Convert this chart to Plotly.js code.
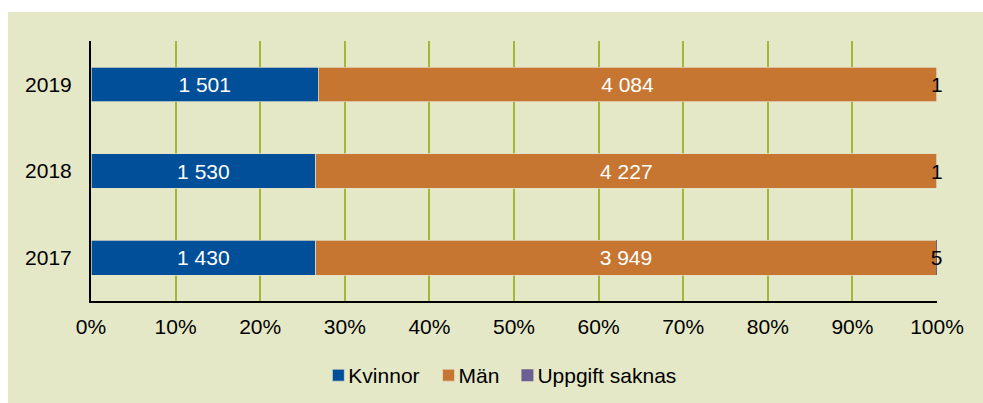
<!DOCTYPE html>
<html>
<head>
<meta charset="utf-8">
<script src="https://cdn.plot.ly/plotly-3.0.1.min.js"></script>
<style>
  html, body { margin: 0; padding: 0; background: #ffffff; width: 983px; height: 403px; overflow: hidden; }
  #chart { position: absolute; left: 8px; top: 12px; width: 975px; height: 391px; }
</style>
</head>
<body>
<div id="chart"></div>
<script>
const years = ['2017', '2018', '2019'];
const kvinnor = [1430, 1530, 1501];
const man = [3949, 4227, 4084];
const saknas = [5, 1, 1];
const seriesNames = ['Kvinnor', 'Män', 'Uppgift saknas'];
const xTickVals = [0, 10, 20, 30, 40, 50, 60, 70, 80, 90, 100];

function fmt(v) {
  return String(v).replace(/\B(?=(\d{3})+(?!\d))/g, ' ');
}

const FONT = 'Liberation Sans, Arial, sans-serif';
const FS = 21;
const lineStyle = { color: 'rgba(225,225,200,0.9)', width: 0.8 };

const traces = [
  {
    type: 'bar', orientation: 'h', name: seriesNames[0],
    y: years, x: kvinnor, text: kvinnor.map(fmt),
    textposition: 'inside', insidetextanchor: 'middle',
    insidetextfont: { color: '#ffffff', size: FS, family: FONT },
    marker: { color: '#004f98', line: lineStyle },
    hoverinfo: 'skip'
  },
  {
    type: 'bar', orientation: 'h', name: seriesNames[1],
    y: years, x: man, text: man.map(fmt),
    textposition: 'inside', insidetextanchor: 'middle',
    insidetextfont: { color: '#ffffff', size: FS, family: FONT },
    marker: { color: '#c77632', line: lineStyle },
    hoverinfo: 'skip'
  },
  {
    type: 'bar', orientation: 'h', name: seriesNames[2],
    y: years, x: saknas, text: saknas.map(fmt),
    textposition: 'inside', insidetextanchor: 'middle', constraintext: 'none',
    insidetextfont: { color: '#000000', size: FS, family: FONT },
    marker: { color: '#6c5f91' },
    cliponaxis: false,
    hoverinfo: 'skip'
  }
];

const layout = {
  width: 975, height: 391,
  margin: { l: 83, r: 46, t: 29, b: 102, autoexpand: false },
  paper_bgcolor: '#e4e8c7',
  plot_bgcolor: '#e4e8c7',
  barmode: 'stack',
  barnorm: 'percent',
  bargap: 0.6,
  font: { family: FONT, size: FS, color: '#000000' },
  showlegend: true,
  legend: {
    orientation: 'h', xref: 'container', yref: 'container',
    x: 0.506, xanchor: 'center', y: 0.0703, yanchor: 'middle',
    font: { family: FONT, size: FS, color: '#000000' },
    itemwidth: 30, bgcolor: 'rgba(0,0,0,0)', traceorder: 'normal'
  },
  xaxis: {
    range: [0, 100], tickvals: xTickVals, ticktext: xTickVals.map(v => v + '%'),
    showgrid: true, gridcolor: '#a3b638', gridwidth: 2,
    zeroline: false, showline: true, linecolor: '#000000', linewidth: 2,
    ticks: '', ticklabelstandoff: 6,
    tickfont: { family: FONT, size: FS, color: '#000000' },
    fixedrange: true
  },
  yaxis: {
    type: 'category', categoryorder: 'array', categoryarray: years,
    showgrid: false, zeroline: false, showline: true, linecolor: '#000000', linewidth: 2,
    ticks: '', ticklabelstandoff: 13,
    tickfont: { family: FONT, size: FS, color: '#000000' },
    fixedrange: true
  }
};

Plotly.newPlot('chart', traces, layout, { displayModeBar: false, staticPlot: true }).then(() => {
  // tighten legend: symbol closer to its label, entries closer together
  const itemShift = [0, -6, -13];
  document.querySelectorAll('.legend .traces').forEach((g, i) => {
    const tr = g.getAttribute('transform') || '';
    const m = tr.match(/translate\(\s*([-\d.]+)[ ,]+([-\d.]+)\s*\)/);
    if (m) {
      g.setAttribute('transform', 'translate(' + (parseFloat(m[1]) + (itemShift[i] || 0)) + ',' + m[2] + ')');
    }
    const pts = g.querySelector('.legendpoints');
    if (pts) pts.setAttribute('transform', 'translate(10,0)');
  });
});
</script>
</body>
</html>
